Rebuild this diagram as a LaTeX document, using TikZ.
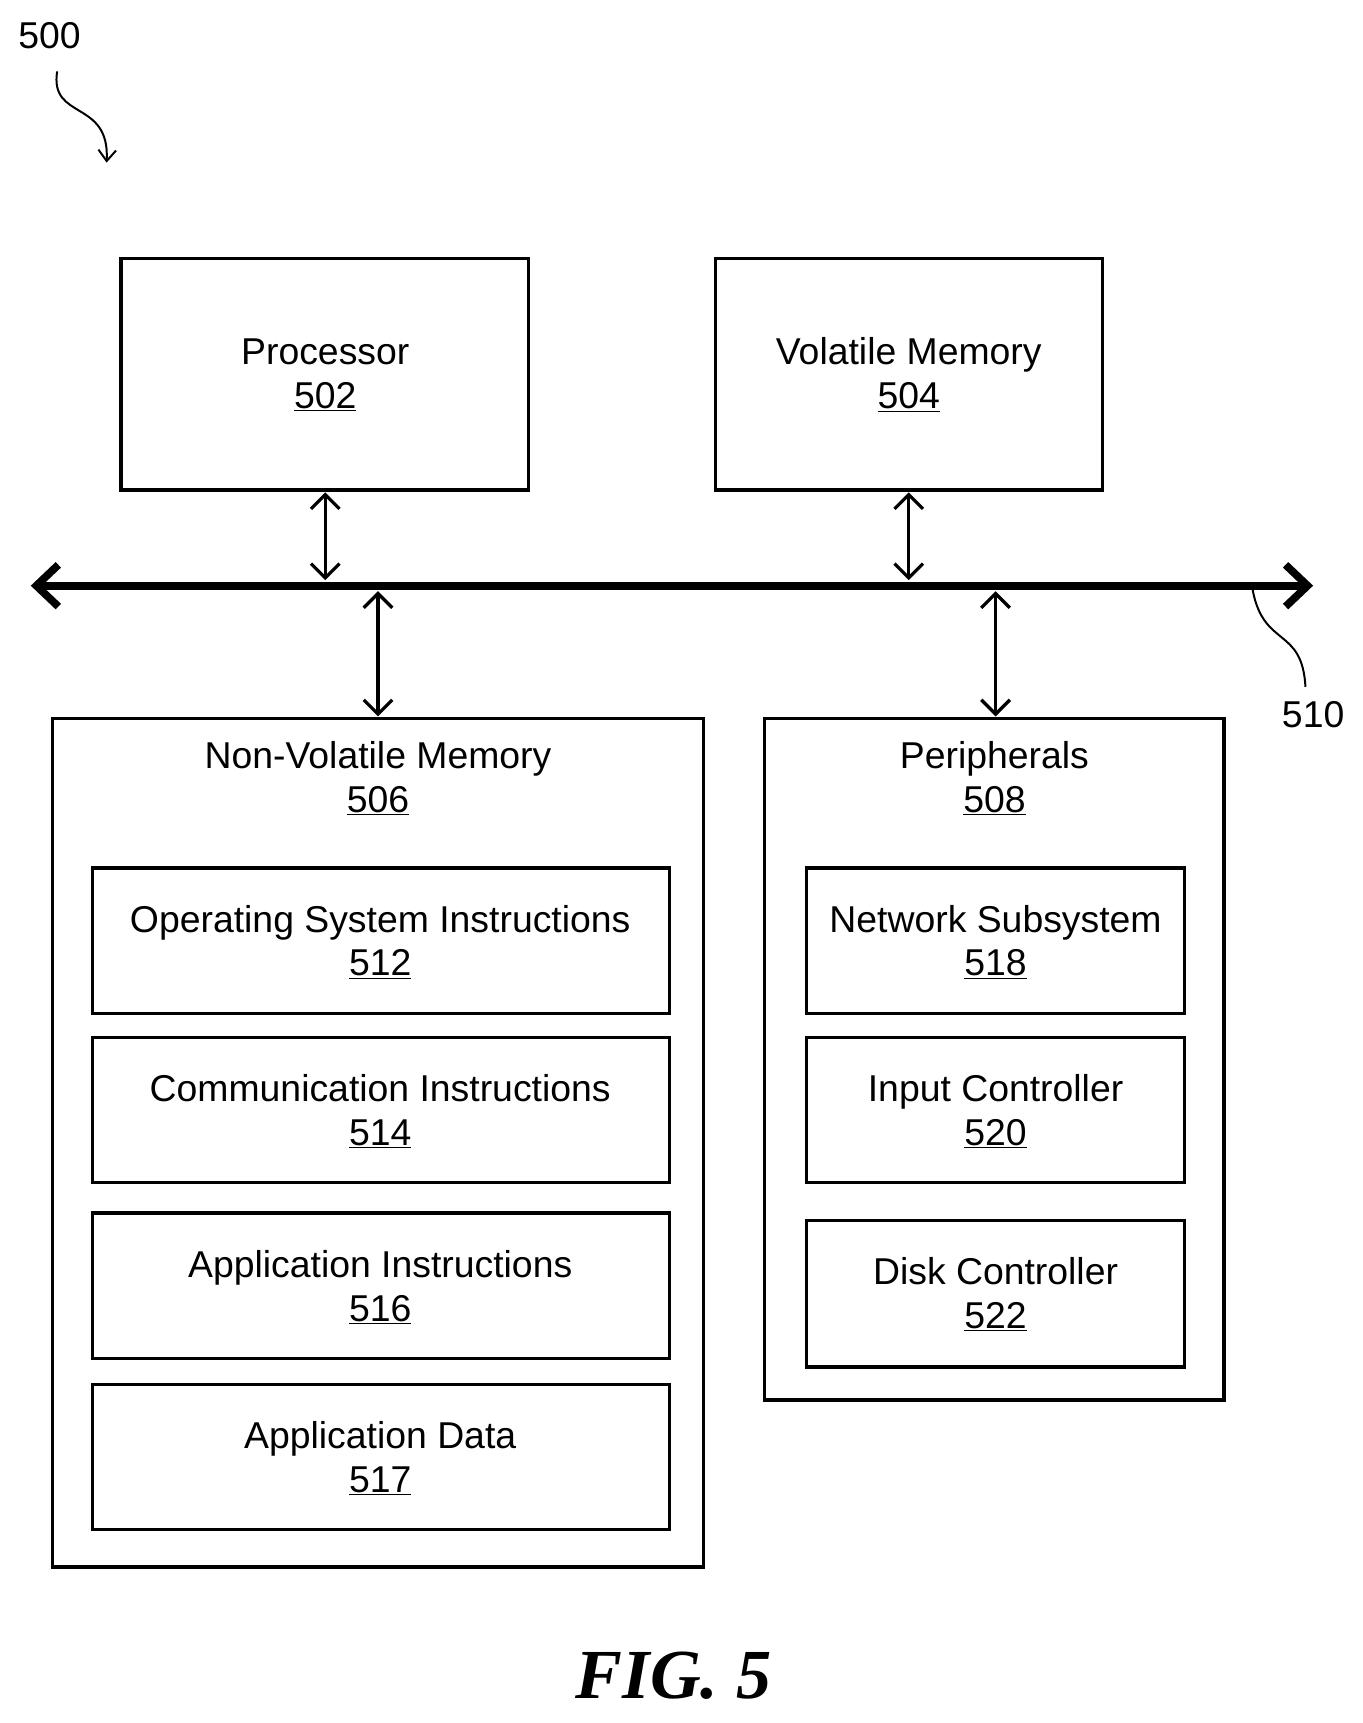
\documentclass[tikz,border=0pt]{standalone}
\usepackage{fontspec}
\setmainfont{Liberation Sans}
\newfontfamily\figfont{Liberation Serif}
\usetikzlibrary{arrows.meta}
\begin{document}
\begin{tikzpicture}[x=1pt,y=-1pt,
  box/.style={draw,line width=3pt,inner sep=0pt},
  lab/.style={font=\fontsize{34}{38}\selectfont,align=center,inner sep=0pt},
  dbl/.style={line width=3pt,{Straight Barb[length=13pt,width=26pt,line width=3pt]}-{Straight Barb[length=13pt,width=26pt,line width=3pt]}}]
\useasboundingbox (0,0) rectangle (1240,1568);
\node[lab] (n500) at (45,32) {500};
\coordinate (s1) at (52,65);
\coordinate (s2) at (97,148);
\draw[line width=1.8pt,-{Straight Barb[length=10pt,width=16pt]}] (s1) .. controls (45,110) and (100,90) .. (s2);
% boxes
\draw[box] (110,235) rectangle (481,446);
\node[lab] (proc) at (296,341) {Processor\\[2pt]\underline{502}};
\draw[box] (651,235) rectangle (1003,446);
\node[lab] (vol) at (827,341) {Volatile Memory\\[2pt]\underline{504}};
% bus
\coordinate (bl) at (28,533); \coordinate (br) at (1195,533);
\draw[line width=7pt,{Straight Barb[length=20pt,width=38pt,line width=7pt]}-{Straight Barb[length=20pt,width=38pt,line width=7pt]}] (bl) -- (br);
\coordinate (p1) at (296,448); \coordinate (p2) at (296,528);
\coordinate (v1) at (827,448); \coordinate (v2) at (827,528);
\coordinate (n1) at (344,538); \coordinate (n2) at (344,652);
\coordinate (q1) at (906,538); \coordinate (q2) at (906,652);
\draw[dbl] (p1) -- (p2);
\draw[dbl] (v1) -- (v2);
\draw[dbl] (n1) -- (n2);
\draw[dbl] (q1) -- (q2);
\coordinate (c1) at (1140,537); \coordinate (c2) at (1188,625);
\draw[line width=1.8pt] (c1) .. controls (1150,590) and (1185,570) .. (c2);
\node[lab] (n510) at (1195,650) {510};
% NVM
\draw[box] (48,654) rectangle (640,1426);
\node[lab] (nvm) at (344,708) {Non-Volatile Memory\\[2pt]\underline{506}};
\draw[box] (84,790) rectangle (609,922);
\node[lab] (os) at (346,857) {Operating System Instructions\\[2pt]\underline{512}};
\draw[box] (84,944) rectangle (609,1076);
\node[lab] (ci) at (346,1011) {Communication Instructions\\[2pt]\underline{514}};
\draw[box] (84,1104) rectangle (609,1236);
\node[lab] (ai) at (346,1171) {Application Instructions\\[2pt]\underline{516}};
\draw[box] (84,1260) rectangle (609,1392);
\node[lab] (ad) at (346,1327) {Application Data\\[2pt]\underline{517}};
% Peripherals
\draw[box] (696,654) rectangle (1114,1274);
\node[lab] (per) at (905,708) {Peripherals\\[2pt]\underline{508}};
\draw[box] (734,790) rectangle (1078,922);
\node[lab] (ns) at (906,857) {Network Subsystem\\[2pt]\underline{518}};
\draw[box] (734,944) rectangle (1078,1076);
\node[lab] (ic) at (906,1011) {Input Controller\\[2pt]\underline{520}};
\draw[box] (734,1111) rectangle (1078,1244);
\node[lab] (dc) at (906,1178) {Disk Controller\\[2pt]\underline{522}};
\node[inner sep=0pt,font=\figfont\bfseries\itshape\fontsize{64}{70}\selectfont] (fig) at (613,1525) {FIG. 5};
\end{tikzpicture}
\end{document}
